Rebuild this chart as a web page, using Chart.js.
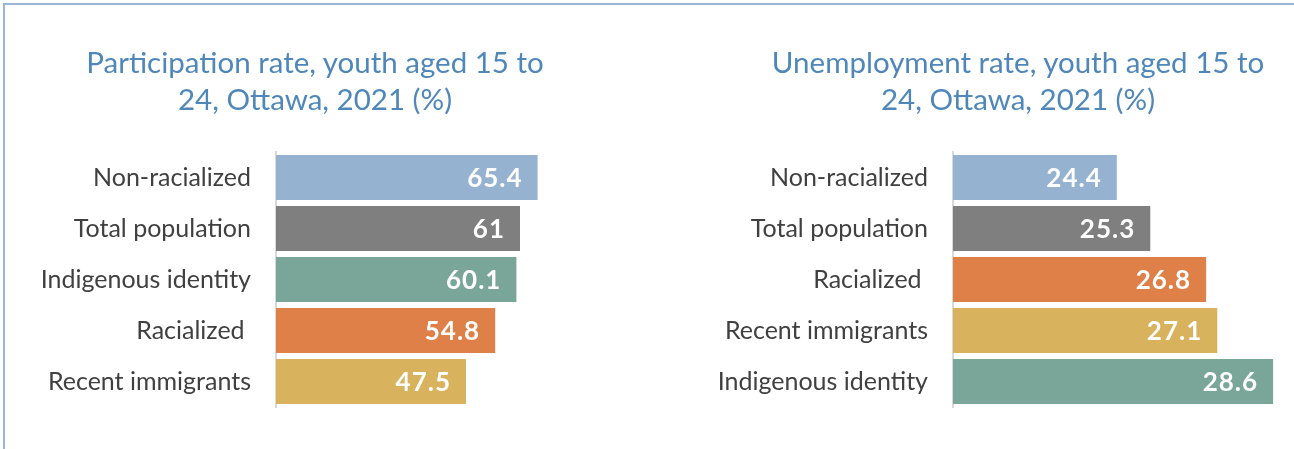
<!DOCTYPE html>
<html>
<head>
<meta charset="utf-8">
<title>Youth labour market, Ottawa, 2021</title>
<script src="https://cdn.jsdelivr.net/npm/chart.js@4"></script>
<style>
  html, body { margin: 0; padding: 0; background: #ffffff; }
  body { width: 1294px; height: 449px; overflow: hidden; position: relative; font-family: Lato, "Open Sans", sans-serif; }
  .frame {
    position: absolute; left: 3px; top: 3px; width: 1400px; height: 500px;
    border: 2px solid #9ab6d6; box-sizing: border-box;
  }
  .panel { position: absolute; top: 0; width: 647px; height: 449px; }
  #left { left: 0; }
  #right { left: 647px; }
  .title {
    position: absolute; top: 43px; width: 600px; margin-left: -300px;
    text-align: center; color: #4f87ba; font-size: 29.5px; line-height: 37px;
  }
  #left-title { left: 315px; }
  #right-title { left: 1018px; }
</style>
</head>
<body>
<div class="frame"></div>
<div class="panel" id="left"><canvas id="participation" width="647" height="449"></canvas></div>
<div class="panel" id="right"><canvas id="unemployment" width="647" height="449"></canvas></div>
<div class="title" id="left-title">Participation rate, youth aged 15 to<br>24, Ottawa, 2021 (%)</div>
<div class="title" id="right-title">Unemployment rate, youth aged 15 to<br>24, Ottawa, 2021 (%)</div>

<script>
// Participation rate, youth aged 15 to 24 (%)
const participationCategories = ['Non-racialized', 'Total population', 'Indigenous identity', 'Racialized ', 'Recent immigrants'];
const participationValues = [65.4, 61, 60.1, 54.8, 47.5];
const participationRange = [0, 70];

// Unemployment rate, youth aged 15 to 24 (%)
const unemploymentCategories = ['Non-racialized', 'Total population', 'Racialized ', 'Recent immigrants', 'Indigenous identity'];
const unemploymentValues = [24.4, 25.3, 26.8, 27.1, 28.6];
const unemploymentRange = [20, 29];

// one colour per group, same in both panels
const groupColors = {
  'Non-racialized': '#95b3d1',
  'Total population': '#7f7f7f',
  'Indigenous identity': '#7aa69a',
  'Racialized': '#de8048',
  'Recent immigrants': '#d9b25e',
};

const FONT = 'Lato, "Open Sans", sans-serif';

// white value printed inside the end of each bar
const barValueLabels = {
  id: 'barValueLabels',
  afterDatasetsDraw(chart) {
    const { ctx } = chart;
    const values = chart.data.datasets[0].data;
    ctx.save();
    ctx.font = `bold 26px ${FONT}`;
    ctx.letterSpacing = '1px';
    ctx.fillStyle = '#ffffff';
    ctx.textAlign = 'right';
    ctx.textBaseline = 'middle';
    chart.getDatasetMeta(0).data.forEach((bar, i) => {
      ctx.fillText(String(values[i]), bar.x - 15, bar.y + 1);
    });
    ctx.restore();
  },
};

function renderPanel(canvas, { categories, values, range, padRight, axisWidth }) {
  return new Chart(canvas, {
    type: 'bar',
    data: {
      labels: categories,
      datasets: [{
        data: values,
        backgroundColor: categories.map((c) => groupColors[c.trim()]),
        categoryPercentage: 0.88,
        barPercentage: 1,
      }],
    },
    plugins: [barValueLabels],
    options: {
      indexAxis: 'y',
      responsive: false,
      devicePixelRatio: 1,
      animation: false,
      layout: { padding: { left: 0, right: padRight, top: 152, bottom: 42 } },
      plugins: {
        legend: { display: false },
        tooltip: { enabled: false },
        title: { display: false },
      },
      scales: {
        x: { display: false, min: range[0], max: range[1] },
        y: {
          afterFit: (scale) => { scale.width = axisWidth; },
          grid: { display: false, drawTicks: false },
          border: { display: true, color: '#d9d9d9', width: 2 },
          ticks: { color: '#404040', padding: 25, font: { family: FONT, size: 25 } },
        },
      },
    },
  });
}

renderPanel(document.getElementById('participation'), {
  categories: participationCategories,
  values: participationValues,
  range: participationRange,
  padRight: 91, axisWidth: 276,
});

renderPanel(document.getElementById('unemployment'), {
  categories: unemploymentCategories,
  values: unemploymentValues,
  range: unemploymentRange,
  padRight: 6, axisWidth: 306,
});
</script>
</body>
</html>
